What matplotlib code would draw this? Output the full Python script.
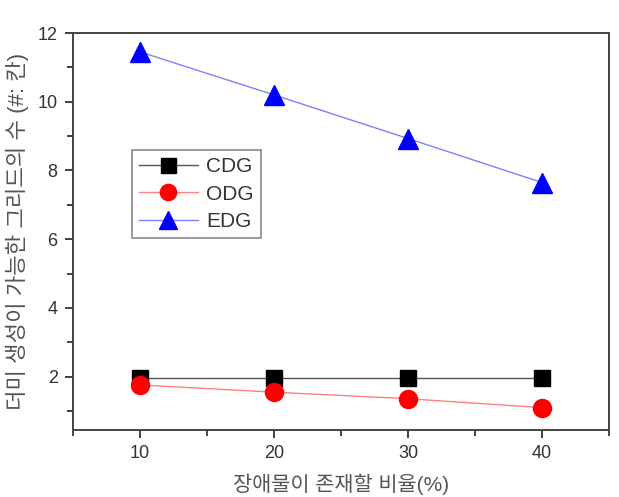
import matplotlib
matplotlib.use("Agg")
import matplotlib.pyplot as plt
from matplotlib.ticker import MultipleLocator

x_values = [10, 20, 30, 40]
cdg = [1.97, 1.97, 1.97, 1.97]
odg = [1.76, 1.55, 1.36, 1.10]
edg = [11.45, 10.2, 8.93, 7.65]
series_names = ["CDG", "ODG", "EDG"]
x_label = "장애물이 존재할 비율(%)"
y_label = "더미 생성이 가능한 그리드의 수 (#: 칸)"

plt.rcParams['font.family'] = ['Liberation Sans', 'Noto Sans CJK KR', 'DejaVu Sans']

fig = plt.figure(figsize=(6.19, 4.97), dpi=100)
ax = fig.add_axes([73/619, 1 - 430/497, (609-73)/619, (430-33)/497])

ax.plot(x_values, cdg, color='#555555', lw=1.0, marker='s', ms=12,
        mfc='black', mec='black', label=series_names[0])
ax.plot(x_values, odg, color='#ff8080', lw=1.0, marker='o', ms=13,
        mfc='red', mec='red', label=series_names[1])
ax.plot(x_values, edg, color='#8080ff', lw=1.0, marker='^', ms=14,
        mfc='blue', mec='blue', label=series_names[2])

ax.set_xlim(5, 45)
ax.set_ylim(0.45, 12)
ax.xaxis.set_major_locator(MultipleLocator(10))
ax.xaxis.set_minor_locator(MultipleLocator(5))
ax.yaxis.set_major_locator(MultipleLocator(2))
ax.yaxis.set_minor_locator(MultipleLocator(1))
ax.set_yticks([2, 4, 6, 8, 10, 12])
ax.tick_params(which='major', direction='out', length=6, width=1.3, color='#333333',
               labelsize=13, labelcolor='#333333', pad=5)
ax.tick_params(which='minor', direction='out', length=4, width=1.3, color='#333333')
for s in ax.spines.values():
    s.set_color('#444444')
    s.set_linewidth(1.4)

ax.set_xlabel(x_label, fontsize=15, color='#555555', labelpad=8)
ax.set_ylabel(y_label, fontsize=16, color='#555555', labelpad=6)

leg = ax.legend(loc='upper left', bbox_to_anchor=((132-73)/536, 1 - (150-33)/397),
                fontsize=15, frameon=True, fancybox=False, edgecolor='#777777',
                handlelength=2.8, borderpad=0.35, labelspacing=0.4, handletextpad=0.4,
                borderaxespad=0, markerscale=0.9)
leg.get_frame().set_linewidth(1.3)
for t in leg.get_texts():
    t.set_color('#333333')

fig.savefig("out.png", dpi=100)
